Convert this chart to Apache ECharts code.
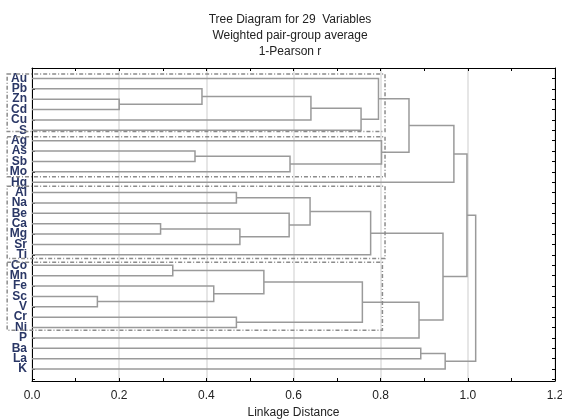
<!DOCTYPE html>
<html>
<head>
<meta charset="utf-8">
<script src="https://cdn.jsdelivr.net/npm/echarts@6/dist/echarts.min.js"></script>
<style>
  html, body { margin: 0; padding: 0; background: #fff; }
  #chart { width: 562px; height: 419px; }
</style>
</head>
<body>
<div id="chart"></div>
<script>
// leaves, top to bottom
var leafNames = ['Au', 'Pb', 'Zn', 'Cd', 'Cu', 'S', 'Ag', 'As', 'Sb', 'Mo', 'Hg',
  'Al', 'Na', 'Be', 'Ca', 'Mg', 'Sr', 'Ti', 'Co', 'Mn', 'Fe', 'Sc', 'V', 'Cr', 'Ni',
  'P', 'Ba', 'La', 'K']
// merges: node ids 0..28 are leaves, merge k makes node 29 + k
var mergeLeft = [2, 1, 30, 31, 0, 7, 34, 6, 33, 37, 11, 14, 40, 13, 39, 43, 18, 21, 20, 45, 23, 48, 50, 44, 38, 26, 54, 53]
var mergeRight = [3, 29, 4, 5, 32, 8, 9, 35, 36, 10, 12, 15, 16, 41, 42, 17, 19, 22, 46, 47, 24, 49, 25, 51, 52, 27, 28, 55]
var mergeHeight = [0.20, 0.39, 0.64, 0.755, 0.795, 0.374, 0.592, 0.802, 0.865, 0.968,
  0.469, 0.295, 0.477, 0.59, 0.638, 0.777, 0.323, 0.15, 0.417, 0.532, 0.469, 0.758,
  0.888, 0.943, 0.998, 0.892, 0.948, 1.018]
// dotted group boxes (leaf index span, right edge in linkage distance)
var boxTop = [-0.42, 5.62, 10.38, 17.72]
var boxBottom = [5.12, 9.48, 17.34, 24.25]
var boxRight = [0.81, 0.81, 0.81, 0.804]

var nodeY = leafNames.map(function (n, i) { return i })
var nodeH = leafNames.map(function () { return 0 })
var brackets = []
for (var k = 0; k < mergeHeight.length; k++) {
  var a = mergeLeft[k], b = mergeRight[k], h = mergeHeight[k]
  brackets.push({ coords: [[nodeH[a], nodeY[a]], [h, nodeY[a]], [h, nodeY[b]], [nodeH[b], nodeY[b]]] })
  nodeY.push((nodeY[a] + nodeY[b]) / 2)
  nodeH.push(h)
}
var boxes = boxRight.map(function (r, i) { return [r, boxTop[i], boxBottom[i]] })

var chart = echarts.init(document.getElementById('chart'))
var frame = { show: true, onZero: false, lineStyle: { color: '#000', width: 1 } }
var yCommon = {
  type: 'value', inverse: true, min: -1, max: 29.15, interval: 1,
  axisLine: frame,
  axisTick: { show: true, inside: true, length: 3, lineStyle: { color: '#000' } },
  splitLine: { show: false }
}
var option = {
  animation: false,
  title: {
    text: 'Tree Diagram for 29  Variables\nWeighted pair-group average\n1-Pearson r',
    left: 285, top: 7, textAlign: 'center',
    textStyle: { fontFamily: 'Liberation Sans', fontSize: 12, fontWeight: 'normal', color: '#222', lineHeight: 16 }
  },
  grid: { left: 32, right: 7, top: 68, bottom: 38, outerBoundsMode: 'none', containLabel: false },
  xAxis: [
    {
      type: 'value', min: 0, max: 1.2, interval: 0.2,
      name: 'Linkage Distance', nameLocation: 'middle', nameGap: 25,
      nameTextStyle: { fontFamily: 'Liberation Sans', fontSize: 12, color: '#222' },
      axisLine: frame,
      axisTick: { show: true, inside: true, length: 3, lineStyle: { color: '#000' } },
      minorTick: { show: true, splitNumber: 2, length: 3, lineStyle: { color: '#000' } },
      axisLabel: {
        margin: 9, fontFamily: 'Liberation Sans', fontSize: 12, color: '#222',
        formatter: function (v) { return v.toFixed(1) }
      },
      splitLine: { show: true, lineStyle: { color: '#dedede', width: 1.5 } }
    },
    {
      type: 'value', position: 'top', min: 0, max: 1.2, interval: 0.2,
      axisLine: frame,
      axisTick: { show: true, inside: true, length: 3, lineStyle: { color: '#000' } },
      minorTick: { show: true, splitNumber: 2, length: 3, lineStyle: { color: '#000' } },
      axisLabel: { show: false },
      splitLine: { show: false }
    }
  ],
  yAxis: [
    Object.assign({}, yCommon, {
      axisLabel: {
        margin: 5, fontFamily: 'Liberation Sans', fontSize: 12, fontWeight: 'bold', color: '#2a3766',
        formatter: function (v) { return leafNames[v] || '' }
      }
    }),
    Object.assign({}, yCommon, { position: 'right', axisLabel: { show: false } })
  ],
  series: [
    {
      type: 'lines', coordinateSystem: 'cartesian2d', polyline: true, silent: true,
      xAxisIndex: 0, yAxisIndex: 0,
      lineStyle: { color: '#9a9a9a', width: 1.5, opacity: 1 },
      data: brackets
    },
    {
      type: 'custom', xAxisIndex: 0, yAxisIndex: 0, clip: false, silent: true,
      encode: { x: 0, y: [1, 2] },
      data: boxes,
      renderItem: function (params, api) {
        var p1 = api.coord([-0.057, api.value(1)])
        var p2 = api.coord([api.value(0), api.value(2)])
        return {
          type: 'rect',
          shape: { x: p1[0], y: p1[1], width: p2[0] - p1[0], height: p2[1] - p1[1] },
          style: { fill: 'none', stroke: '#8c8c8c', lineWidth: 1.5, lineDash: [4, 2, 1, 2] }
        }
      }
    }
  ]
}
chart.setOption(option)
</script>
</body>
</html>
